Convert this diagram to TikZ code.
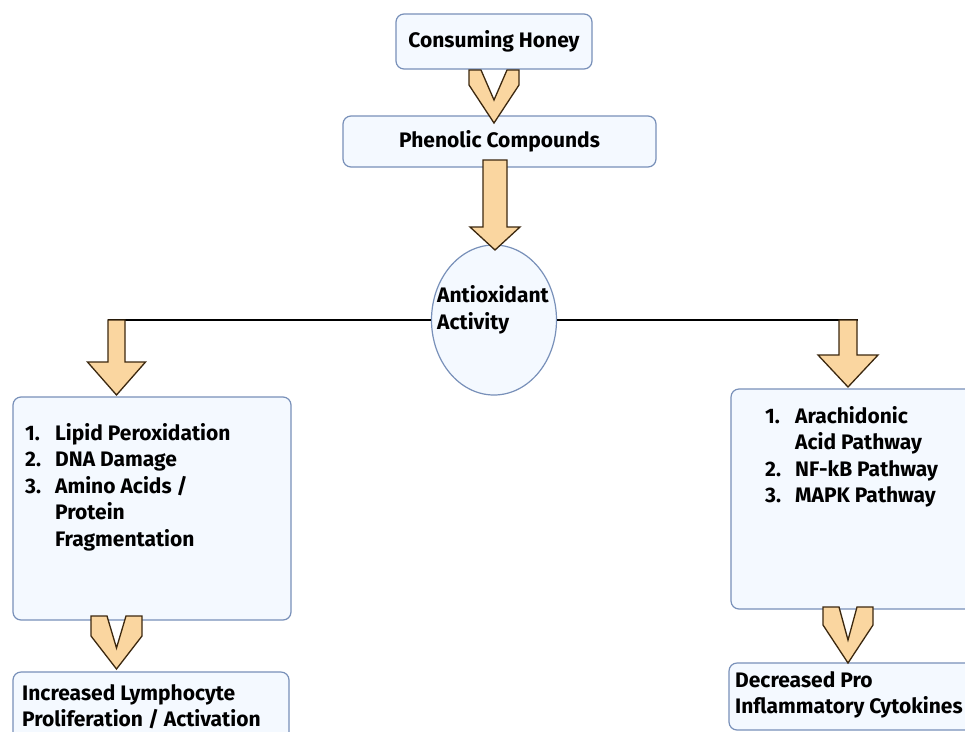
\documentclass[tikz,border=0pt]{standalone}
\usepackage{fontspec}
\setmainfont{Fira Sans}
\usetikzlibrary{shapes.geometric}
\definecolor{boxfill}{RGB}{244,249,255}
\definecolor{boxborder}{RGB}{120,144,185}
\definecolor{arrowfill}{RGB}{250,214,160}
\definecolor{arrowborder}{RGB}{60,40,15}
\newcommand\blkarrow[6]{%
  \draw[arr] (#1-#3,#2) -- (#1+#3,#2) -- (#1+#3,#4) -- (#1+#5,#4) -- (#1,#6) -- (#1-#5,#4) -- (#1-#3,#4) -- cycle;}
\newcommand\chevr[7]{%
  \draw[arr] (#1-#3,#2) -- (#1-#3+#4,#2) -- (#1,#5) -- (#1+#3-#4,#2) -- (#1+#3,#2) -- (#1+#3,#6) -- (#1,#7) -- (#1-#3,#6) -- cycle;}
\begin{document}
\begin{tikzpicture}[x=1pt,y=-1pt,
  box/.style={draw=boxborder, fill=boxfill, rounded corners=8pt, line width=1.2pt, inner sep=0pt},
  arr/.style={draw=arrowborder, fill=arrowfill, line width=1.3pt, line join=miter},
  fnt/.style={font=\fontsize{21}{26.5}\selectfont\bfseries},
  txt/.style={fnt, inner sep=0pt, anchor=base west}
]
\clip (0,0) rectangle (965,731);
\useasboundingbox (0,0) rectangle (965,731);
\fill[white] (0,0) rectangle (965,731);

% boxes
\node[box, fnt, minimum width=196pt, minimum height=55pt] (honey) at (494,41.5) {Consuming Honey};
\node[box, fnt, minimum width=313pt, minimum height=51pt] (phen) at (499.5,141.5) {Phenolic Compounds};
\node[draw=boxborder, fill=boxfill, line width=1.2pt, ellipse, minimum width=125pt, minimum height=150pt] (aa) at (494,320) {};
\node[fnt, align=left, inner sep=0pt] (aatext) at (493,310) {Antioxidant\\Activity};

\node[box, minimum width=278pt, minimum height=223pt] (lbox) at (152,508.5) {};
\node[txt] (ltext) at (25,440) {\begin{tabular}[t]{@{}p{30pt}@{}l@{}}1.&Lipid Peroxidation\\2.&DNA Damage\\3.&Amino Acids /\\&Protein\\&Fragmentation\end{tabular}};

\node[box, minimum width=276pt, minimum height=90pt] (lbot) at (151,717) {};
\node[txt] (lbottext) at (22,700) {\begin{tabular}[t]{@{}l@{}}Increased Lymphocyte\\Proliferation / Activation\end{tabular}};

\node[box, minimum width=269pt, minimum height=220pt] (rbox) at (865.5,499) {};
\node[txt] (rtext) at (765,423) {\begin{tabular}[t]{@{}p{30pt}@{}l@{}}1.&Arachidonic\\&Acid Pathway\\2.&NF-kB Pathway\\3.&MAPK Pathway\end{tabular}};

\node[box, minimum width=271pt, minimum height=67pt] (rbot) at (864.5,696.5) {};
\node[txt] (rbottext) at (735,687) {\begin{tabular}[t]{@{}l@{}}Decreased Pro\\Inflammatory Cytokines\end{tabular}};

% connector lines
\coordinate (L) at (108,320);
\coordinate (R) at (858,320);
\draw[line width=1.6pt] (aa.west) -- (L);
\draw[line width=1.6pt] (aa.east) -- (R);

% arrows
\chevr{494}{70}{25}{12}{100}{85}{123}
\blkarrow{495}{160}{12}{227}{25}{250}
\blkarrow{116.5}{320}{8.5}{362}{29}{395}
\blkarrow{848}{320}{9}{355}{30}{387}
\chevr{116.5}{616}{25.5}{16}{648}{636}{669}
\chevr{848}{607}{25}{16}{640}{625}{663}
\end{tikzpicture}
\end{document}
